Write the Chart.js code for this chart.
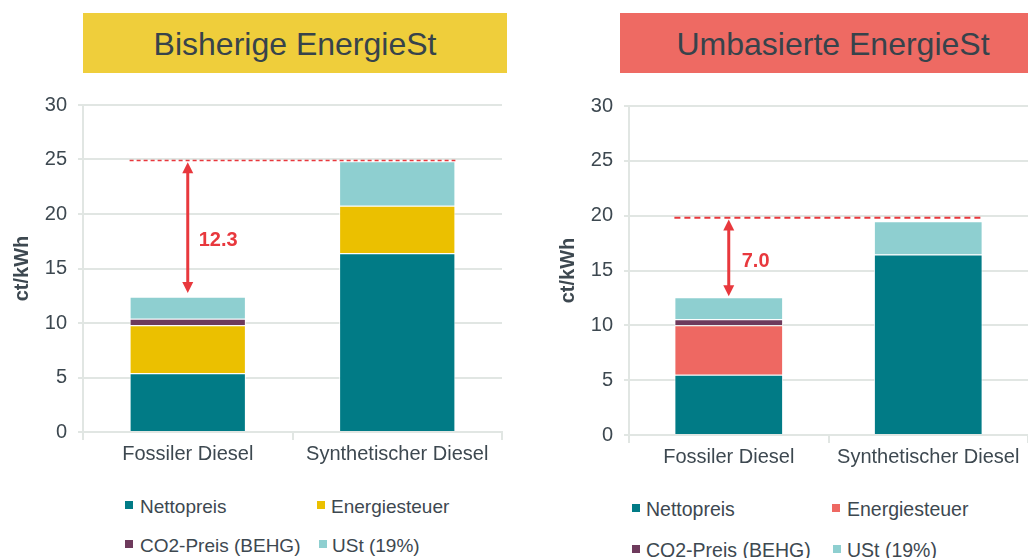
<!DOCTYPE html>
<html><head><meta charset="utf-8">
<script src="https://cdn.jsdelivr.net/npm/chart.js@4.4.1/dist/chart.umd.min.js"></script>
<style>
body{margin:0;width:1028px;height:558px;background:#fff;position:relative;overflow:hidden;font-family:"Liberation Sans",Arial,sans-serif;color:#3d4850}
.box{position:absolute;top:13px;height:60px;line-height:62px;font-size:32px;color:#37434b;text-align:center;}
canvas{position:absolute;}
.mk{position:absolute;width:8px;height:8px;}
.lt{position:absolute;line-height:1;white-space:nowrap;color:#3d4850;}
</style>
</head><body>
<div class="box" style="left:83px;width:424px;background:#EFCE3B;">Bisherige EnergieSt</div>
<div class="box" style="left:620px;width:426px;background:#EE6A63;">Umbasierte EnergieSt</div>
<canvas id="c1" width="520" height="400" style="left:0;top:80px;width:520px;height:400px"></canvas>
<canvas id="c2" width="488" height="400" style="left:540px;top:80px;width:488px;height:400px"></canvas>
<div id="leg"></div>
<script>
// ---- Data ----
const categories = ['Fossiler Diesel', 'Synthetischer Diesel'];
const seriesNames = ['Nettopreis', 'Energiesteuer', 'CO2-Preis (BEHG)', 'USt (19%)'];
const yTicksMax = 30;
const yTickStep = 5;
const yTitle = 'ct/kWh';

// Bisherige EnergieSt
const nettoBisher   = [5.4, 16.4];
const energieBisher = [4.4, 4.35];
const co2Bisher     = [0.6, 0];
const ustBisher     = [2.0, 4.1];
// Umbasierte EnergieSt
const nettoUmb   = [5.5, 16.45];
const energieUmb = [4.5, 0];
const co2Umb     = [0.55, 0];
const ustUmb     = [2.0, 3.05];

// Gap annotations (values)
const gapBisher = {line: 24.9, top: 24.75, bottom: 12.75, labelAt: 17.6, label: '12.3'};
const gapUmb    = {line: 19.8, top: 19.65, bottom: 12.65, labelAt: 15.8, label: '7.0'};

// ---- Styles ----
const C_NETTO = '#017B86', C_ENERGIE_Y = '#EBC000', C_ENERGIE_R = '#EE6862', C_CO2 = '#6E3A5C', C_UST = '#8ECFD0';
const C_RED = '#E8383D';
const TXT = '#3d4850';
const GRID = '#e1e6e3';

const gapPlugin = {
  id: 'gapAnno',
  afterDatasetsDraw(chart, args, opts) {
    const g = opts.gap; if (!g) return;
    const y = chart.scales.y;
    const meta = chart.getDatasetMeta(0);
    const b0 = meta.data[0], b1 = meta.data[1];
    const ctx = chart.ctx;
    ctx.save();
    // dashed line
    ctx.strokeStyle = C_RED; ctx.lineWidth = opts.dashWidth; ctx.setLineDash(opts.dash);
    const yl = y.getPixelForValue(g.line);
    ctx.beginPath(); ctx.moveTo(b0.x - b0.width/2, yl); ctx.lineTo(b1.x + b1.width/2, yl); ctx.stroke();
    ctx.setLineDash([]);
    // arrow
    const x = b0.x;
    const yt = y.getPixelForValue(g.top), yb = y.getPixelForValue(g.bottom);
    const h = 11, w = 5.5;
    ctx.lineWidth = 3;
    ctx.beginPath(); ctx.moveTo(x, yt + h - 1); ctx.lineTo(x, yb - h + 1); ctx.stroke();
    ctx.fillStyle = C_RED;
    ctx.beginPath(); ctx.moveTo(x, yt); ctx.lineTo(x - w, yt + h); ctx.lineTo(x + w, yt + h); ctx.closePath(); ctx.fill();
    ctx.beginPath(); ctx.moveTo(x, yb); ctx.lineTo(x - w, yb - h); ctx.lineTo(x + w, yb - h); ctx.closePath(); ctx.fill();
    // label
    ctx.font = 'bold 20px "Liberation Sans", Arial, sans-serif';
    ctx.textBaseline = 'middle'; ctx.textAlign = 'left';
    ctx.fillText(g.label, x + opts.labelDx, y.getPixelForValue(g.labelAt));
    ctx.restore();
  }
};

function makeChart(id, sets, cfg) {
  const ds = sets.map((s) => ({
    label: s.name, data: s.data, backgroundColor: s.color,
    borderColor: 'rgba(255,255,255,0.85)', borderWidth: 1,
    barPercentage: cfg.barPct, categoryPercentage: 1
  }));
  return new Chart(document.getElementById(id), {
    type: 'bar',
    data: {labels: categories, datasets: ds},
    plugins: [gapPlugin],
    options: {
      responsive: false, animation: false,
      layout: {padding: {top: cfg.padTop, right: cfg.padRight, left: 0, bottom: 0}},
      plugins: {legend: {display: false}, tooltip: {enabled: false},
        gapAnno: {gap: cfg.gap, dash: cfg.dash, dashWidth: cfg.dashWidth, labelDx: cfg.labelDx}},
      scales: {
        x: {stacked: true, offset: true,
          grid: {display: true, drawOnChartArea: false, offset: true, tickLength: 8, color: GRID, lineWidth: 2},
          border: {color: GRID, width: 2},
          ticks: {font: {size: 20, family: '"Liberation Sans", Arial, sans-serif'}, color: TXT, padding: 2},
          afterFit: s => { s.height = cfg.xHeight; }
        },
        y: {stacked: true, min: 0, max: yTicksMax,
          ticks: {stepSize: yTickStep, font: {size: 20, family: '"Liberation Sans", Arial, sans-serif'}, color: TXT, padding: 11},
          grid: {color: GRID, lineWidth: 2, tickLength: 5},
          border: {color: GRID, width: 2},
          title: {display: true, text: yTitle, color: TXT, font: {size: 20, weight: 'bold', family: '"Liberation Sans", Arial, sans-serif'}, padding: {top: cfg.titlePad, bottom: 0}},
          afterFit: s => { s.width = cfg.yWidth; }
        }
      }
    }
  });
}

makeChart('c1', [
  {name: seriesNames[0], data: nettoBisher, color: C_NETTO},
  {name: seriesNames[1], data: energieBisher, color: C_ENERGIE_Y},
  {name: seriesNames[2], data: co2Bisher, color: C_CO2},
  {name: seriesNames[3], data: ustBisher, color: C_UST}
], {barPct: 0.555, padTop: 25, padRight: 18, xHeight: 48, yWidth: 83, titlePad: 10, gap: gapBisher, dash: [4, 3], dashWidth: 1.5, labelDx: 11});

makeChart('c2', [
  {name: seriesNames[0], data: nettoUmb, color: C_NETTO},
  {name: seriesNames[1], data: energieUmb, color: C_ENERGIE_R},
  {name: seriesNames[2], data: co2Umb, color: C_CO2},
  {name: seriesNames[3], data: ustUmb, color: C_UST}
], {barPct: 0.545, padTop: 26, padRight: 0, xHeight: 45, yWidth: 89, titlePad: 16, gap: gapUmb, dash: [6, 4], dashWidth: 2, labelDx: 13});

// ---- HTML legends ----
const legendDefs = [
  {colors: [C_NETTO, C_ENERGIE_Y, C_CO2, C_UST], fs: 19,
   items: [[125, 501, 140, 497], [317, 501, 331, 497], [125, 540, 140, 536], [319, 540, 332, 536]]},
  {colors: [C_NETTO, C_ENERGIE_R, C_CO2, C_UST], fs: 19.5,
   items: [[632, 504, 646, 500], [832, 504, 847, 500], [632, 545, 646, 541], [833, 545, 847, 541]]}
];
const leg = document.getElementById('leg');
legendDefs.forEach(def => {
  def.items.forEach((p, i) => {
    const m = document.createElement('div'); m.className = 'mk';
    m.style.left = p[0] + 'px'; m.style.top = p[1] + 'px'; m.style.background = def.colors[i];
    const t = document.createElement('div'); t.className = 'lt';
    t.style.left = p[2] + 'px'; t.style.top = p[3] + 'px'; t.style.fontSize = def.fs + 'px';
    t.textContent = seriesNames[i];
    leg.appendChild(m); leg.appendChild(t);
  });
});
</script>
</body></html>
